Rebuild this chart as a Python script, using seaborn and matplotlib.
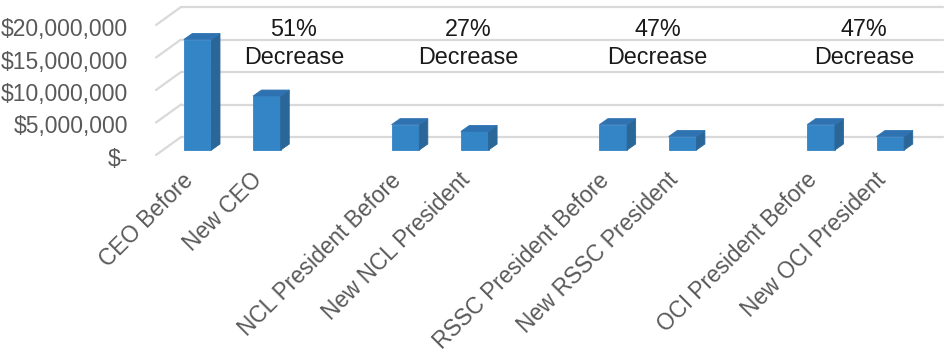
import matplotlib
matplotlib.use("Agg")
import matplotlib.pyplot as plt
import seaborn as sns
from matplotlib.patches import Polygon
from matplotlib.transforms import offset_copy, ScaledTranslation

sns.set_style("white")
plt.rcParams['font.family'] = ['Liberation Sans', 'DejaVu Sans']

# data
roles = ['CEO Before', 'New CEO',
         'NCL President Before', 'New NCL President',
         'RSSC President Before', 'New RSSC President',
         'OCI President Before', 'New OCI President']
pay = [17.0e6, 8.3e6, 3.9e6, 2.85e6, 3.9e6, 2.07e6, 3.9e6, 2.07e6]
change_labels = ['51%\nDecrease', '27%\nDecrease', '47%\nDecrease', '47%\nDecrease']
ytick_vals = [0, 5e6, 10e6, 15e6, 20e6]
ytick_labels = ['$-', '$5,000,000', '$10,000,000', '$15,000,000', '$20,000,000']

# empty slots between the pairs
order = roles[0:2] + [' '] + roles[2:4] + ['  '] + roles[4:6] + ['   '] + roles[6:8]
note_x = [1.39, 3.91, 6.64, 9.62]

front = '#3385C6'
side = '#2B6698'
top = '#2E72B1'
grid_c = '#D9D9D9'
label_c = '#595959'

W, H = 949, 355
fig = plt.figure(figsize=(W / 100, H / 100), dpi=100)
ax = fig.add_axes([163 / W, (H - 150) / H, 762 / W, 130 / H])

sns.barplot(x=roles, y=pay, order=order, color=front, width=0.4,
            saturation=1, ax=ax, zorder=3)
ax.set_xlim(-0.5, len(order) - 0.5)
ax.set_ylim(0, 20e6)
for s in ax.spines.values():
    s.set_visible(False)
ax.grid(False)

# fake 3d: back wall offset and front plane offset in pixels
back = offset_copy(ax.transData, fig=fig, x=18, y=13, units='dots')
frontp = offset_copy(ax.transData, fig=fig, x=-7, y=-5, units='dots')
x0, x1 = ax.get_xlim()
for v in ytick_vals:
    ax.plot([x0, x1], [v, v], color=grid_c, lw=1.6, transform=back,
            clip_on=False, zorder=1)
    p1 = frontp.transform((x0, v))
    p2 = back.transform((x0, v))
    ax.plot([p1[0], p2[0]], [p1[1], p2[1]], color=grid_c, lw=1.6,
            transform=None, clip_on=False, zorder=1)

# top and side faces of the bars
dd = (8.5, 6)
for bar in list(ax.patches):
    bx, bw, bh = bar.get_x(), bar.get_width(), bar.get_height()
    a = ax.transData.transform((bx, bh))
    b = ax.transData.transform((bx + bw, bh))
    c = ax.transData.transform((bx + bw, 0))
    top_pts = [a, b, (b[0] + dd[0], b[1] + dd[1]), (a[0] + dd[0], a[1] + dd[1])]
    side_pts = [c, b, (b[0] + dd[0], b[1] + dd[1]), (c[0] + dd[0], c[1] + dd[1])]
    ax.add_patch(Polygon(side_pts, closed=True, facecolor=side, edgecolor=side,
                         lw=0.6, transform=None, zorder=3, clip_on=False))
    ax.add_patch(Polygon(top_pts, closed=True, facecolor=top, edgecolor=top,
                         lw=0.6, transform=None, zorder=3, clip_on=False))
    bar.set_edgecolor(front)
    bar.set_linewidth(0.6)
    bar.set_clip_on(False)

ax.set_yticks(ytick_vals)
ax.set_yticklabels(ytick_labels)
ax.tick_params(axis='y', length=0, pad=25, labelsize=16.5, labelcolor=label_c)
shift = ScaledTranslation(0, -7 / 100, fig.dpi_scale_trans)
for lab in ax.get_yticklabels():
    lab.set_transform(lab.get_transform() + shift)

ax.set_xticks(range(len(order)))
ax.set_xticklabels([o if o.strip() else '' for o in order])
ax.tick_params(axis='x', length=0, pad=20, labelsize=16.3, labelcolor=label_c)
xshift = ScaledTranslation(-8 / 100, 1 / 100, fig.dpi_scale_trans)
for lab in ax.get_xticklabels():
    lab.set_rotation(45)
    lab.set_ha('right')
    lab.set_va('center')
    lab.set_rotation_mode('anchor')
    lab.set_transform(lab.get_transform() + xshift)
ax.set_xlabel('')
ax.set_ylabel('')

for x, t in zip(note_x, change_labels):
    ax.text(x, 16.4e6, t, ha='center', va='center', fontsize=16.8,
            color='#1A1A1A', linespacing=1.25, zorder=4)

fig.savefig('out.png', dpi=100)
